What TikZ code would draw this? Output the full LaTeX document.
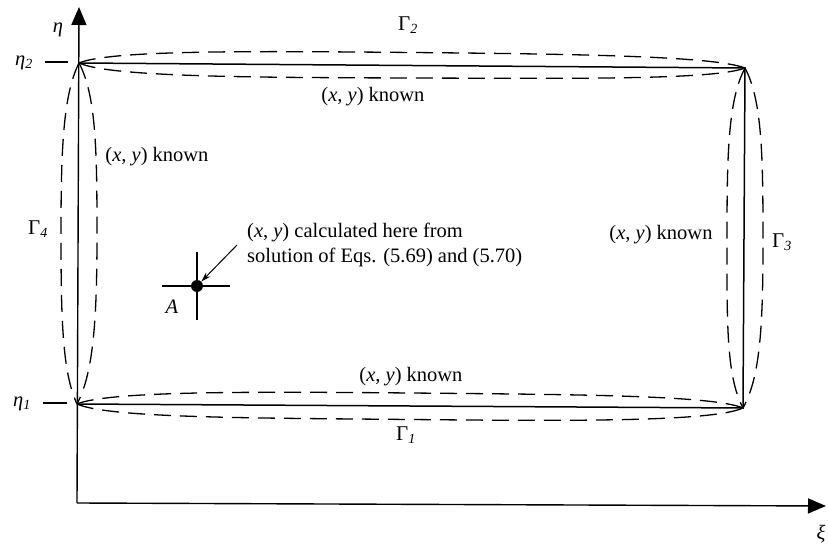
\documentclass[tikz,border=0pt]{standalone}
\usepackage{fontspec}
\setmainfont{Liberation Serif}
\usetikzlibrary{arrows.meta}
\tikzset{
  side/.style={line width=1.5pt},
  lensline/.style={line width=1.3pt, dash pattern=on 17pt off 9pt},
  axis/.style={line width=1.4pt, -{Triangle[length=18pt,width=15pt]}},
  lbl/.style={font=\fontsize{20.5}{25}\selectfont, inner sep=1pt},
  sublbl/.style={font=\fontsize{21}{25}\selectfont, inner sep=1pt}
}
\newcommand{\sbi}[1]{\textsubscript{\fontsize{14}{16}\selectfont\textit{#1}}}
\begin{document}
\begin{tikzpicture}[x=1pt,y=-1pt]
\useasboundingbox (0,0) rectangle (828,545);
% corners
\coordinate (c1) at (77,404);
\coordinate (c2) at (79,63);
\coordinate (c3) at (745,68);
\coordinate (c4) at (743,408);
\coordinate (O) at (77,503);
\coordinate (ytip) at (79,7);
\coordinate (xtip) at (826,506);
% axes
\draw[axis] (O) -- (ytip);
\draw[axis] (O) -- (xtip);
% rectangle sides
\draw[side] (c2) -- (c3) -- (c4) -- (c1);
% ticks
\coordinate (t2a) at (45,62); \coordinate (t2b) at (68,62);
\coordinate (t1a) at (43,403); \coordinate (t1b) at (67,403);
\draw[line width=1.2pt] (t2a) -- (t2b);
\draw[line width=1.2pt] (t1a) -- (t1b);
% top lens
\draw[lensline] (c2) .. controls (110,50) and (250,51) .. (412,52.5) .. controls (574,54) and (714,56) .. (c3);
\draw[lensline] (c2) .. controls (110,77) and (250,77.5) .. (412,78) .. controls (574,78.5) and (714,80) .. (c3);
% bottom lens
\draw[lensline] (c1) .. controls (108,391) and (250,391.5) .. (410,393) .. controls (570,394.5) and (712,395) .. (c4);
\draw[lensline] (c1) .. controls (108,418) and (250,418) .. (410,419.5) .. controls (570,421) and (712,422) .. (c4);
% left lens
\draw[lensline] (c2) .. controls (63,95) and (61,150) .. (61,233) .. controls (61,316) and (62,372) .. (c1);
\draw[lensline] (c2) .. controls (96,95) and (97,150) .. (97,233) .. controls (97,316) and (94,372) .. (c1);
% right lens
\draw[lensline] (c3) .. controls (728,100) and (727,155) .. (727,238) .. controls (727,321) and (726,376) .. (c4);
\draw[lensline] (c3) .. controls (762,100) and (763,155) .. (763,238) .. controls (763,321) and (761,376) .. (c4);
% point A
\node[circle, fill, inner sep=0pt, minimum size=12pt] (A) at (197,286) {};
\coordinate (hA1) at (162,286); \coordinate (hA2) at (230,286);
\coordinate (vA1) at (197,252); \coordinate (vA2) at (197,320);
\draw[line width=1.4pt] (hA1) -- (hA2);
\draw[line width=1.4pt] (vA1) -- (vA2);
\coordinate (arrs) at (237,245);
\draw[line width=1pt, -{Stealth[length=10pt,width=6pt]}] (arrs) -- (A);
% labels
\node[lbl] (leta) at (58,30) {\textit{η}};
\node[lbl] (leta2) at (24,63) {\textit{η}\sbi{2}};
\node[lbl] (leta1) at (22,404) {\textit{η}\sbi{1}};
\node[lbl] (lxi) at (821,534) {\textit{ξ}};
\node[sublbl] (g2) at (408,25) {Γ\sbi{2}};
\node[sublbl] (g4) at (38,229) {Γ\sbi{4}};
\node[sublbl] (g3) at (782,242) {Γ\sbi{3}};
\node[sublbl] (g1) at (406,435) {Γ\sbi{1}};
\node[lbl] (ktop) at (373,97) {(\textit{x}, \textit{y}) known};
\node[lbl] (kleft) at (157,157) {(\textit{x}, \textit{y}) known};
\node[lbl] (kright) at (661,235) {(\textit{x}, \textit{y}) known};
\node[lbl] (kbot) at (411,377) {(\textit{x}, \textit{y}) known};
\node[lbl, anchor=west, align=left] (calc) at (246,245) {(\textit{x}, \textit{y}) calculated here from\\solution of Eqs. (5.69) and (5.70)};
\node[lbl] (lA) at (172,307) {\textit{A}};
\end{tikzpicture}
\end{document}
